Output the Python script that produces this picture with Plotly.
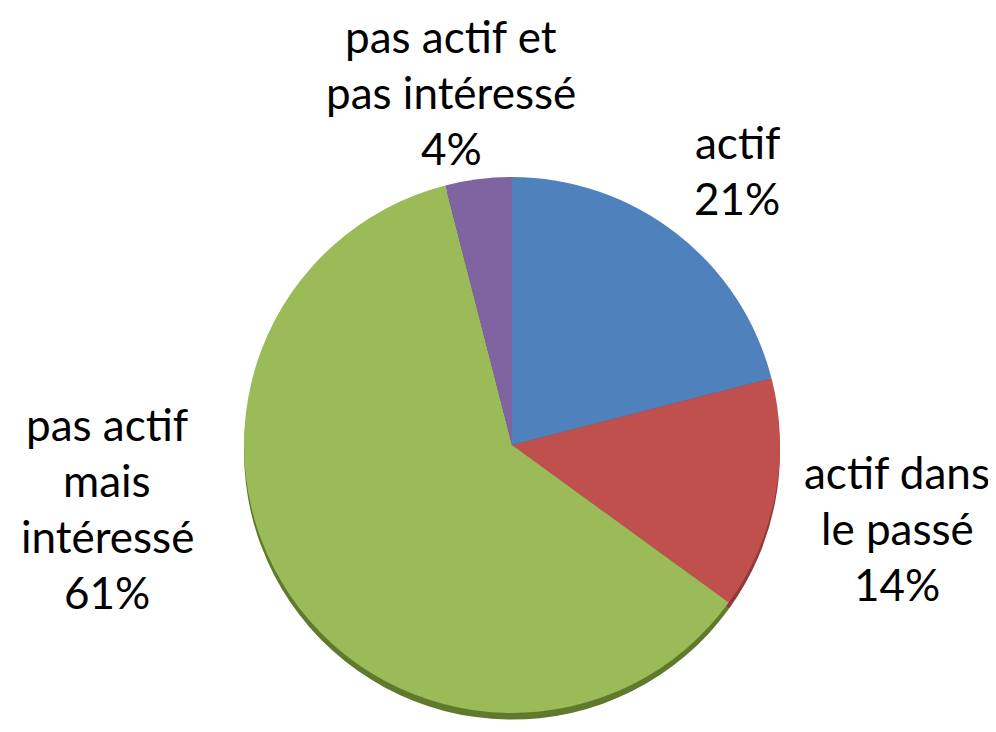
import plotly.graph_objects as go

labels = ["actif", "actif dans<br>le passé", "pas actif<br>mais<br>intéressé", "pas actif et<br>pas intéressé"]
values = [21, 14, 61, 4]
colors = ["#4F81BD", "#C0504D", "#9BBB59", "#8064A2"]
edge_colors = ["#3A6190", "#8E3B39", "#5F7A2C", "#5E4A78"]

W, H = 996, 732
LINE = 56  # px between text lines

# centre (x) and first-line centre (y) of each label block, in px from top-left
label_px = [(729, 134), (889, 464), (99, 416), (443, 28)]

fig = go.Figure()

# darker copy a few px lower -> thin 3D rim at the bottom
fig.add_trace(
    go.Pie(
        labels=labels,
        values=values,
        marker=dict(colors=edge_colors, line=dict(width=0)),
        sort=False,
        direction="clockwise",
        rotation=0,
        textinfo="none",
        hoverinfo="skip",
        domain=dict(x=[0.2369, 0.7751], y=[0.0279, 0.7601]),
        showlegend=False,
    )
)
fig.add_trace(
    go.Pie(
        labels=labels,
        values=values,
        marker=dict(colors=colors, line=dict(width=0)),
        sort=False,
        direction="clockwise",
        rotation=0,
        textinfo="none",
        hoverinfo="label+percent",
        domain=dict(x=[0.2369, 0.7751], y=[0.0369, 0.7691]),
        showlegend=False,
    )
)

total = sum(values)
for lab, val, (px, py) in zip(labels, values, label_px):
    lines = lab.split("<br>") + [f"{round(100 * val / total)}%"]
    for i, line in enumerate(lines):
        fig.add_annotation(
            x=px / W, y=1 - (py + i * LINE) / H,
            xref="paper", yref="paper",
            xanchor="center", yanchor="middle",
            text=line,
            showarrow=False,
            font=dict(family="Lato", size=44, color="black"),
        )

fig.update_layout(
    width=W,
    height=H,
    margin=dict(l=0, r=0, t=0, b=0),
    paper_bgcolor="white",
    plot_bgcolor="white",
)

fig.write_html("out.html")
